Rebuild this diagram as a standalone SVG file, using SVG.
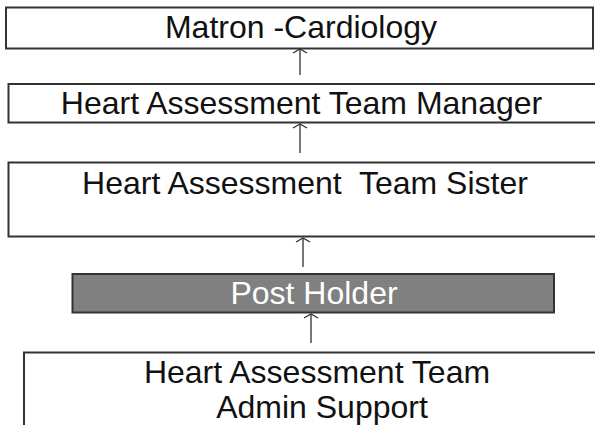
<svg xmlns="http://www.w3.org/2000/svg" width="595" height="425" viewBox="0 0 595 425">
  <style>
    .box { fill: #ffffff; stroke: #333333; stroke-width: 2; }
    .box.dark { fill: #808080; }
    .label { font-family: "Liberation Sans", Arial, sans-serif; font-size: 32px; fill: #111111; text-anchor: middle; }
    .label.light { fill: #ffffff; }
    .link { stroke: #555555; stroke-width: 1.6; fill: none; }
    .head { stroke: #333333; stroke-width: 1.4; fill: none; }
  </style>
  <rect width="595" height="425" fill="#ffffff"/>

  <g id="connectors">
    <line class="link" x1="300" y1="49" x2="300" y2="75"/>
    <polyline class="head" points="293,53 300,49 307,53"/>
    <line class="link" x1="300" y1="124" x2="300" y2="153"/>
    <polyline class="head" points="293,128 300,124 307,128"/>
    <line class="link" x1="303" y1="238" x2="303" y2="267"/>
    <polyline class="head" points="296,242 303,238 310,242"/>
    <line class="link" x1="311" y1="314" x2="311" y2="343"/>
    <polyline class="head" points="304,318 311,314 318,318"/>
  </g>

  <g id="matron">
    <rect class="box" x="6" y="7.5" width="587" height="41"/>
    <text class="label" x="301" y="37.5">Matron -Cardiology</text>
  </g>

  <g id="team-manager">
    <rect class="box" x="8.5" y="84" width="600" height="38.5"/>
    <text class="label" x="301.5" y="114">Heart Assessment Team Manager</text>
  </g>

  <g id="team-sister">
    <rect class="box" x="8.5" y="162.5" width="600" height="74"/>
    <text class="label" x="305" y="194" xml:space="preserve">Heart Assessment  Team Sister</text>
  </g>

  <g id="post-holder">
    <rect class="box dark" x="72.5" y="274" width="481.5" height="38.5"/>
    <text class="label light" x="314" y="304">Post Holder</text>
  </g>

  <g id="admin-support">
    <rect class="box" x="24" y="352.5" width="600" height="100"/>
    <text class="label" x="317" y="383">Heart Assessment Team</text>
    <text class="label" x="322" y="418">Admin Support</text>
  </g>
</svg>
